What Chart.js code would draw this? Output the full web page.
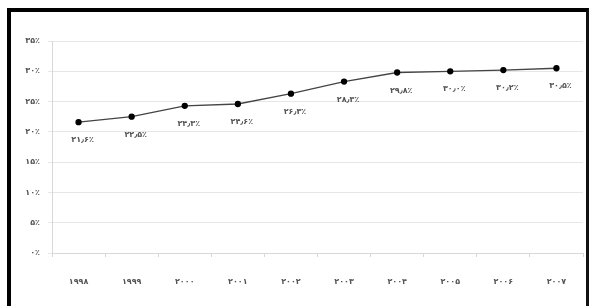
<!DOCTYPE html>
<html>
<head>
<meta charset="utf-8">
<script src="https://cdn.jsdelivr.net/npm/chart.js@4/dist/chart.umd.min.js"></script>
<style>
  html, body { margin: 0; padding: 0; background: #fff; }
  #wrap { position: relative; width: 589px; height: 306px; overflow: hidden; }
  #frame { position: absolute; left: 7px; top: 8px; width: 575px; height: 310px;
           border-left: 4px solid #000; border-top: 4px solid #000; border-right: 3px solid #111;
           pointer-events: none; }
  canvas { position: absolute; left: 0; top: 0; }
</style>
</head>
<body>
<div id="wrap">
  <canvas id="c" width="589" height="306"></canvas>
  <div id="frame"></div>
</div>
<script>
const years = ['۱۹۹۸', '۱۹۹۹', '۲۰۰۰', '۲۰۰۱', '۲۰۰۲', '۲۰۰۳', '۲۰۰۴', '۲۰۰۵', '۲۰۰۶', '۲۰۰۷'];
const shares = [21.6, 22.5, 24.3, 24.6, 26.3, 28.3, 29.8, 30.0, 30.2, 30.5];
const yTicks = [0, 5, 10, 15, 20, 25, 30, 35];

const faDigits = ['۰','۱','۲','۳','۴','۵','۶','۷','۸','۹'];
function toFa(str) { return String(str).replace(/[0-9]/g, d => faDigits[+d]).replace('.', '٫'); }

const FONT = '"DejaVu Sans", "Liberation Serif", sans-serif';

const valueLabels = {
  id: 'valueLabels',
  afterDatasetsDraw(chart) {
    const ctx = chart.ctx;
    const meta = chart.getDatasetMeta(0);
    ctx.save();
    ctx.font = 'bold 8px ' + FONT;
    ctx.fillStyle = '#555';
    ctx.textAlign = 'center';
    ctx.textBaseline = 'middle';
    meta.data.forEach((pt, i) => {
      ctx.fillText(toFa(shares[i].toFixed(1)) + '٪', pt.x + 4, pt.y + 18);
    });
    ctx.restore();
  }
};

new Chart(document.getElementById('c'), {
  type: 'line',
  data: {
    labels: years,
    datasets: [{
      data: shares,
      borderColor: '#444',
      borderWidth: 1.3,
      pointBackgroundColor: '#000',
      pointBorderColor: '#000',
      pointRadius: 2.5,
      tension: 0
    }]
  },
  options: {
    responsive: false,
    animation: false,
    events: [],
    layout: { padding: { left: 0, right: 6, top: 41, bottom: 0 } },
    plugins: { legend: { display: false }, tooltip: { enabled: false } },
    scales: {
      x: {
        offset: true,
        grid: { offset: true, drawOnChartArea: false, drawTicks: true, tickLength: 4, color: '#d8d8d8' },
        border: { color: '#d8d8d8' },
        ticks: { padding: 20, color: '#555', font: { family: FONT, size: 8, weight: 'bold' }, maxRotation: 0 },
        afterFit(s) { s.height = 53; }
      },
      y: {
        min: 0, max: 35,
        afterBuildTicks(s) { s.ticks = yTicks.map(v => ({ value: v })); },
        grid: { color: '#e6e6e6', tickLength: 4 },
        border: { color: '#d8d8d8' },
        ticks: { padding: 8, color: '#555', font: { family: FONT, size: 8, weight: 'bold' },
                 callback: v => toFa(v) + '٪' },
        afterFit(s) { s.width = 52; }
      }
    }
  },
  plugins: [valueLabels]
});
</script>
</body>
</html>
